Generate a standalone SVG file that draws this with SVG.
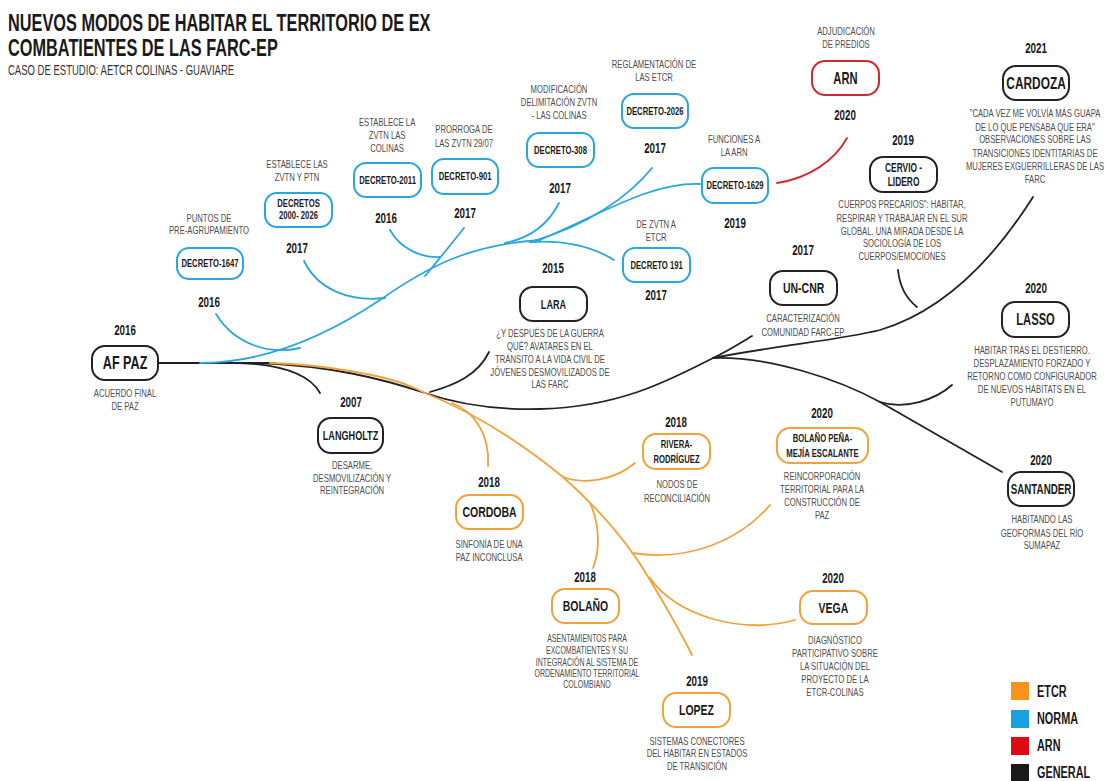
<svg xmlns="http://www.w3.org/2000/svg" width="1108" height="781" viewBox="0 0 1108 781">
<style>
text{font-family:"Liberation Sans",Arial,sans-serif;transform-box:fill-box;transform-origin:center;transform:scaleX(.7)}
.l{transform-origin:left center;transform:scaleX(.68)}
.t{font-weight:bold;font-size:24px;fill:#1a1a1a}
.st{font-size:14px;fill:#333}
.yr{font-weight:bold;font-size:14px;fill:#1a1a1a;text-anchor:middle}
.d{font-size:11px;fill:#4d4d4d;text-anchor:middle}
.n{font-weight:bold;fill:#1a1a1a;text-anchor:middle;font-size:11px}
.lg{font-weight:bold;font-size:16px;fill:#1a1a1a}
rect.b{fill:#fff;stroke-width:2}
.bb{stroke:#2aa6df}.bo{stroke:#f2a23a}.bk{stroke:#222}.br{stroke:#d8262d}
#connectors path{fill:none;stroke-width:1.8;stroke-linecap:round}
.cb{stroke:#2aa6df}.co{stroke:#f2a23a}.ck{stroke:#222}.cr{stroke:#d8262d}
</style>
<rect width="1108" height="781" fill="#fff"/>
<g id="title">
<text class="t l" x="8" y="31">NUEVOS MODOS DE HABITAR EL TERRITORIO DE EX</text>
<text class="t l" x="8" y="56">COMBATIENTES DE LAS FARC-EP</text>
<text class="st l" x="8" y="75">CASO DE ESTUDIO: AETCR COLINAS - GUAVIARE</text>
</g>
<g id="connectors">
<path class="ck" d="M158,363 L275,363"/>
<path class="ck" d="M240,363 C285,365 310,375 320,393"/>
<path class="ck" d="M260,363 C330,366 380,378 425,393 C460,405 500,410 540,409 C620,407 670,380 713,358 C730,350 740,343 752,336"/>
<path class="co" d="M270,363 C330,365 385,376 410,386"/>
<path class="co" d="M425,393 C480,415 530,450 563,477 C600,510 630,545 650,580 C668,610 682,635 692,655"/>
<path class="co" d="M410,386 C417,389 421,391 425,393"/>
<path class="co" d="M452,403 C475,412 490,435 488,466"/>
<path class="co" d="M563,477 C585,485 615,480 635,463"/>
<path class="co" d="M590,503 C600,525 600,550 593,568"/>
<path class="co" d="M632,553 C690,562 740,540 770,505"/>
<path class="co" d="M650,578 C675,615 740,635 795,620"/>
<path class="ck" d="M430,392 C455,385 478,375 489,352"/>
<path class="ck" d="M713,358 C780,345 840,340 880,330 C940,312 990,265 1033,197"/>
<path class="ck" d="M713,358 C770,356 840,380 880,402"/>
<path class="ck" d="M880,402 C905,410 935,400 952,385"/>
<path class="ck" d="M880,402 L1002,472"/>
<path class="ck" d="M898,270 C900,290 908,300 917,307"/>
<path class="cb" d="M200,363 C260,363 320,340 380,300 C430,265 470,245 540,240"/>
<path class="cb" d="M216,314 C235,345 270,355 300,348"/>
<path class="cb" d="M304,261 C318,290 350,302 385,298"/>
<path class="cb" d="M390,230 C400,248 420,258 440,257"/>
<path class="cb" d="M464,228 Q445,252 425,276"/>
<path class="cb" d="M559,203 C548,225 530,238 505,243"/>
<path class="cb" d="M652,168 C630,195 590,225 530,242"/>
<path class="cb" d="M700,184 C650,182 600,215 535,242"/>
<path class="cb" d="M614,260 C590,245 560,240 530,242"/>
<path class="cr" d="M777,183 C810,178 835,160 847,138"/>
</g>
<g id="n-afpaz">
<text class="yr" x="125" y="335">2016</text>
<rect class="b bk" x="92" y="346" width="66" height="34" rx="13"/>
<text class="n" x="125" y="369.5" style="font-size:18px">AF PAZ</text>
<text class="d" x="125" y="397">ACUERDO FINAL<tspan x="125" dy="13">DE PAZ</tspan></text>
</g>
<g id="n-langholtz">
<text class="yr" x="351" y="407">2007</text>
<rect class="b bk" x="318" y="418" width="65" height="35" rx="13"/>
<text class="n" x="350.5" y="440.5" style="font-size:13px">LANGHOLTZ</text>
<text class="d" x="352" y="469">DESARME,<tspan x="352" dy="13">DESMOVILIZACIÓN Y</tspan><tspan x="352" dy="12">REINTEGRACIÓN</tspan></text>
</g>
<g id="n-d1647">
<text class="d" x="209" y="222">PUNTOS DE<tspan x="209" dy="12">PRE-AGRUPAMIENTO</tspan></text>
<rect class="b bb" x="177" y="248" width="66" height="31" rx="12"/>
<text class="n" x="210" y="267.5">DECRETO-1647</text>
<text class="yr" x="209" y="307">2016</text>
</g>
<g id="n-d2000">
<text class="d" x="297" y="168">ESTABLECE LAS<tspan x="297" dy="13">ZVTN Y PTN</tspan></text>
<rect class="b bb" x="265" y="193" width="67" height="34" rx="12"/>
<text class="n" x="298.5" y="207">DECRETOS<tspan x="298.5" dy="12">2000- 2026</tspan></text>
<text class="yr" x="297" y="253">2017</text>
</g>
<g id="n-d2011">
<text class="d" x="387" y="126">ESTABLECE LA<tspan x="387" dy="13">ZVTN LAS</tspan><tspan x="387" dy="13">COLINAS</tspan></text>
<rect class="b bb" x="354" y="163" width="67" height="34" rx="12"/>
<text class="n" x="387.5" y="184">DECRETO-2011</text>
<text class="yr" x="386" y="223">2016</text>
</g>
<g id="n-d901">
<text class="d" x="464" y="133">PRORROGA DE<tspan x="464" dy="14">LAS ZVTN 29/07</tspan></text>
<rect class="b bb" x="432" y="159" width="66" height="35" rx="12"/>
<text class="n" x="465" y="180.5">DECRETO-901</text>
<text class="yr" x="465" y="218">2017</text>
</g>
<g id="n-d308">
<text class="d" x="559" y="93">MODIFICACIÓN<tspan x="559" dy="13">DELIMITACIÓN ZVTN</tspan><tspan x="559" dy="13">- LAS COLINAS</tspan></text>
<rect class="b bb" x="527" y="133" width="67" height="34" rx="12"/>
<text class="n" x="560.5" y="154">DECRETO-308</text>
<text class="yr" x="560" y="193">2017</text>
</g>
<g id="n-d2026">
<text class="d" x="654" y="68">REGLAMENTACIÓN DE<tspan x="654" dy="13">LAS ETCR</tspan></text>
<rect class="b bb" x="622" y="94" width="66" height="34" rx="12"/>
<text class="n" x="655" y="115">DECRETO-2026</text>
<text class="yr" x="655" y="153">2017</text>
</g>
<g id="n-d1629">
<text class="d" x="734" y="143">FUNCIONES A<tspan x="734" dy="13">LA ARN</tspan></text>
<rect class="b bb" x="702" y="168" width="66" height="35" rx="12"/>
<text class="n" x="735" y="189.5">DECRETO-1629</text>
<text class="yr" x="735" y="228">2019</text>
</g>
<g id="n-arn">
<text class="d" x="846" y="35">ADJUDICACIÓN<tspan x="846" dy="13">DE PREDIOS</tspan></text>
<rect class="b br" x="812" y="61" width="67" height="34" rx="13"/>
<text class="n" x="845.5" y="84" style="font-size:16px">ARN</text>
<text class="yr" x="845" y="120">2020</text>
</g>
<g id="n-d191">
<text class="d" x="656" y="228">DE ZVTN A<tspan x="656" dy="13">ETCR</tspan></text>
<rect class="b bb" x="623" y="248" width="67" height="34" rx="12"/>
<text class="n" x="656.5" y="269">DECRETO 191</text>
<text class="yr" x="656" y="300">2017</text>
</g>
<g id="n-lara">
<text class="yr" x="553" y="273">2015</text>
<rect class="b bk" x="520" y="287" width="67" height="34" rx="13"/>
<text class="n" x="553.5" y="309" style="font-size:13px">LARA</text>
<text class="d" x="550" y="337">¿Y DESPUÉS DE LA GUERRA<tspan x="550" dy="13">QUÉ? AVATARES EN EL</tspan><tspan x="550" dy="13">TRÁNSITO A LA VIDA CIVIL DE</tspan><tspan x="550" dy="13">JÓVENES DESMOVILIZADOS DE</tspan><tspan x="550" dy="12">LAS FARC</tspan></text>
</g>
<g id="n-uncnr">
<text class="yr" x="803" y="255">2017</text>
<rect class="b bk" x="770" y="271" width="67" height="34" rx="13"/>
<text class="n" x="803.5" y="293.5" style="font-size:15px">UN-CNR</text>
<text class="d" x="803" y="322">CARACTERIZACIÓN<tspan x="803" dy="14">COMUNIDAD FARC-EP</tspan></text>
</g>
<g id="n-cervio">
<text class="yr" x="903" y="145">2019</text>
<rect class="b bk" x="870" y="157" width="67" height="35" rx="13"/>
<text class="n" x="903.5" y="172" style="font-size:12px">CERVIO -<tspan x="903.5" dy="14">LIDERO</tspan></text>
<text class="d" x="902" y="208">CUERPOS PRECARIOS": HABITAR,<tspan x="902" dy="14">RESPIRAR Y TRABAJAR EN EL SUR</tspan><tspan x="902" dy="13">GLOBAL. UNA MIRADA DESDE LA</tspan><tspan x="902" dy="12">SOCIOLOGÍA DE LOS</tspan><tspan x="902" dy="13">CUERPOS/EMOCIONES</tspan></text>
</g>
<g id="n-cardoza">
<text class="yr" x="1036" y="53">2021</text>
<rect class="b bk" x="1003" y="66" width="66" height="34" rx="13"/>
<text class="n" x="1036" y="89" style="font-size:17px">CARDOZA</text>
<text class="d" x="1035" y="117">"CADA VEZ ME VOLVÍA MÁS GUAPA<tspan x="1035" dy="14">DE LO QUE PENSABA QUE ERA"</tspan><tspan x="1035" dy="12">OBSERVACIONES SOBRE LAS</tspan><tspan x="1035" dy="14">TRANSICIONES IDENTITARIAS DE</tspan><tspan x="1035" dy="13">MUJERES EXGUERRILLERAS DE LAS</tspan><tspan x="1035" dy="13">FARC</tspan></text>
</g>
<g id="n-lasso">
<text class="yr" x="1036" y="293">2020</text>
<rect class="b bk" x="1002" y="302" width="67" height="35" rx="13"/>
<text class="n" x="1035.5" y="325.5" style="font-size:16px">LASSO</text>
<text class="d" x="1032" y="354">HABITAR TRAS EL DESTIERRO.<tspan x="1032" dy="13">DESPLAZAMIENTO FORZADO Y</tspan><tspan x="1032" dy="13">RETORNO COMO CONFIGURADOR</tspan><tspan x="1032" dy="13">DE NUEVOS HÁBITATS EN EL</tspan><tspan x="1032" dy="13">PUTUMAYO</tspan></text>
</g>
<g id="n-santander">
<text class="yr" x="1041" y="465">2020</text>
<rect class="b bk" x="1008" y="472" width="66" height="34" rx="13"/>
<text class="n" x="1041" y="494" style="font-size:14px">SANTANDER</text>
<text class="d" x="1042" y="523">HABITANDO LAS<tspan x="1042" dy="14">GEOFORMAS DEL RÍO</tspan><tspan x="1042" dy="12">SUMAPAZ</tspan></text>
</g>
<g id="n-rivera">
<text class="yr" x="676" y="427">2018</text>
<rect class="b bo" x="643" y="434" width="67" height="35" rx="13"/>
<text class="n" x="676.5" y="448">RIVERA-<tspan x="676.5" dy="15">RODRÍGUEZ</tspan></text>
<text class="d" x="677" y="488">NODOS DE<tspan x="677" dy="14">RECONCILIACIÓN</tspan></text>
</g>
<g id="n-bolanopena">
<text class="yr" x="822" y="418">2020</text>
<rect class="b bo" x="777" y="428" width="91" height="35" rx="13"/>
<text class="n" x="822.5" y="442">BOLAÑO PEÑA-<tspan x="822.5" dy="15">MEJÍA ESCALANTE</tspan></text>
<text class="d" x="822" y="480">REINCORPORACIÓN<tspan x="822" dy="13">TERRITORIAL PARA LA</tspan><tspan x="822" dy="13">CONSTRUCCIÓN DE</tspan><tspan x="822" dy="13">PAZ</tspan></text>
</g>
<g id="n-cordoba">
<text class="yr" x="489" y="487">2018</text>
<rect class="b bo" x="456" y="495" width="67" height="34" rx="13"/>
<text class="n" x="489.5" y="517.5" style="font-size:15px">CORDOBA</text>
<text class="d" x="489" y="548">SINFONÍA DE UNA<tspan x="489" dy="13">PAZ INCONCLUSA</tspan></text>
</g>
<g id="n-bolano">
<text class="yr" x="585" y="582">2018</text>
<rect class="b bo" x="552" y="589" width="67" height="34" rx="13"/>
<text class="n" x="585.5" y="611.5" style="font-size:15px">BOLAÑO</text>
<text class="d" x="587" y="642" style="font-size:10px">ASENTAMIENTOS PARA<tspan x="587" dy="12">EXCOMBATIENTES Y SU</tspan><tspan x="587" dy="12">INTEGRACIÓN AL SISTEMA DE</tspan><tspan x="587" dy="11">ORDENAMIENTO TERRITORIAL</tspan><tspan x="587" dy="11">COLOMBIANO</tspan></text>
</g>
<g id="n-vega">
<text class="yr" x="833" y="583">2020</text>
<rect class="b bo" x="800" y="591" width="67" height="33" rx="13"/>
<text class="n" x="833.5" y="613" style="font-size:15px">VEGA</text>
<text class="d" x="835" y="644">DIAGNÓSTICO<tspan x="835" dy="13">PARTICIPATIVO SOBRE</tspan><tspan x="835" dy="13">LA SITUACIÓN DEL</tspan><tspan x="835" dy="13">PROYECTO DE LA</tspan><tspan x="835" dy="13">ETCR-COLINAS</tspan></text>
</g>
<g id="n-lopez">
<text class="yr" x="697" y="686">2019</text>
<rect class="b bo" x="663" y="693" width="67" height="34" rx="13"/>
<text class="n" x="696.5" y="715.5" style="font-size:15px">LOPEZ</text>
<text class="d" x="697" y="745">SISTEMAS CONECTORES<tspan x="697" dy="12">DEL HABITAR EN ESTADOS</tspan><tspan x="697" dy="13">DE TRANSICIÓN</tspan></text>
</g>
<g id="legend">
<rect x="1011" y="682" width="18" height="18" fill="#f7941d"/>
<rect x="1011" y="710" width="18" height="18" fill="#1ba1e2"/>
<rect x="1011" y="737" width="18" height="18" fill="#e30613"/>
<rect x="1011" y="764" width="18" height="17" fill="#1a1a1a"/>
<text class="lg l" x="1037" y="697">ETCR</text>
<text class="lg l" x="1037" y="724">NORMA</text>
<text class="lg l" x="1037" y="751">ARN</text>
<text class="lg l" x="1037" y="778">GENERAL</text>
</g>
</svg>
